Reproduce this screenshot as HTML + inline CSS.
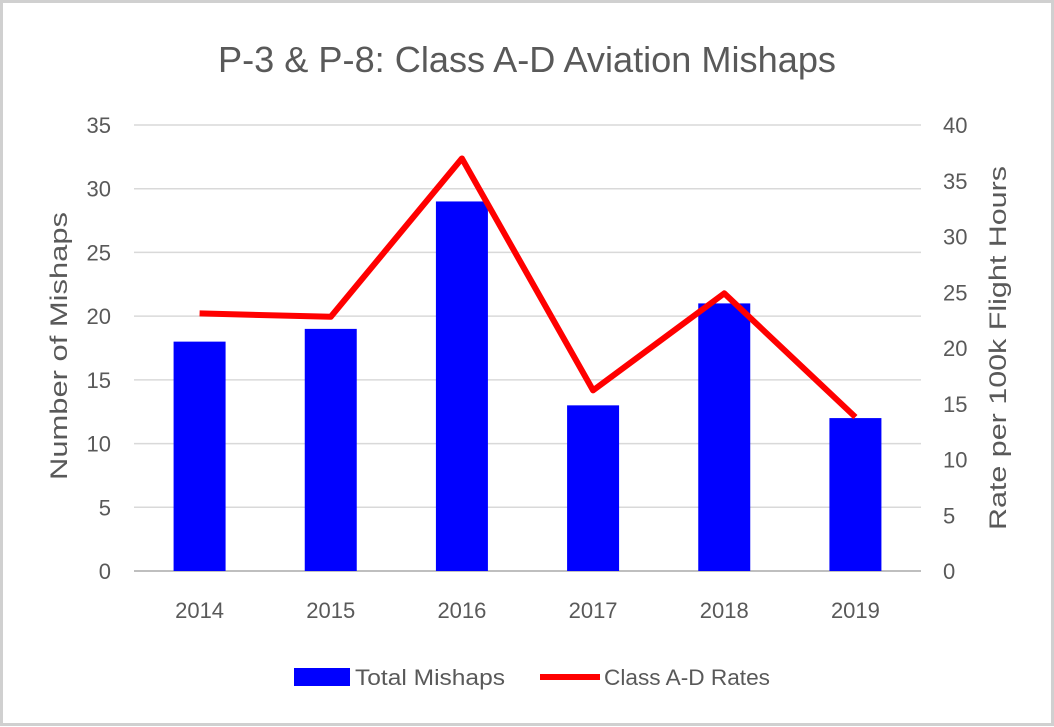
<!DOCTYPE html>
<html><head><meta charset="utf-8"><style>
body{margin:0;width:1054px;height:727px;background:#fff;overflow:hidden}
svg{display:block;font-family:"Liberation Sans",sans-serif}
</style></head><body>
<svg id="c" width="1054" height="727">
<rect x="1.5" y="1.5" width="1051" height="723" fill="#fff" stroke="#d0d0d0" stroke-width="3"/>
<text x="527" y="72" text-anchor="middle" font-size="36" fill="#595959" textLength="618" lengthAdjust="spacingAndGlyphs">P-3 &amp; P-8: Class A-D Aviation Mishaps</text>
<text transform="translate(67,346) rotate(-90)" text-anchor="middle" font-size="24" fill="#595959" textLength="268" lengthAdjust="spacingAndGlyphs">Number of Mishaps</text>
<text transform="translate(1006,348) rotate(-90)" text-anchor="middle" font-size="24" fill="#595959" textLength="364" lengthAdjust="spacingAndGlyphs">Rate per 100k Flight Hours</text>
<g id="grid"></g><g id="bars"></g><g id="line"></g><g id="labels"></g>
<g>
<rect x="294" y="668" width="56" height="18" fill="#0000ff"/>
<text x="355" y="685" font-size="22" fill="#595959" textLength="150" lengthAdjust="spacingAndGlyphs">Total Mishaps</text>
<line x1="540" y1="677" x2="600" y2="677" stroke="#ff0000" stroke-width="6"/>
<text x="604" y="685" font-size="22" fill="#595959" textLength="166" lengthAdjust="spacingAndGlyphs">Class A-D Rates</text>
</g>
</svg>
<script>
const years=["2014","2015","2016","2017","2018","2019"];
const mishaps=[18,19,29,13,21,12];
const rates=[23.1,22.8,37.0,16.2,24.9,13.8];
const leftTicks=[0,5,10,15,20,25,30,35];
const rightTicks=[0,5,10,15,20,25,30,35,40];
const NS="http://www.w3.org/2000/svg";
const x0=134,x1=921,yb=571,yt=125;
const yL=v=>yb-(v/35)*(yb-yt);
const yR=v=>yb-(v/40)*(yb-yt);
const bw=(x1-x0)/years.length;
const xc=i=>x0+bw*(i+0.5);
function mk(t,a,p){const e=document.createElementNS(NS,t);for(const k in a)e.setAttribute(k,a[k]);p.appendChild(e);return e;}
const g=document.getElementById('grid'),b=document.getElementById('bars'),l=document.getElementById('line'),lb=document.getElementById('labels');
leftTicks.forEach(v=>{
 const ln=mk('line',{x1:x0,x2:x1,y1:yL(v),y2:yL(v),stroke:v===0?'#bfbfbf':'#d9d9d9','stroke-width':v===0?2:1.5},g);
 
 
 const t=mk('text',{x:111,y:yL(v)+8,'text-anchor':'end','font-size':22,fill:'#595959'},lb);t.textContent=v;
 
 
});
rightTicks.forEach(v=>{
 const t=mk('text',{x:943,y:yR(v)+8,'font-size':22,fill:'#595959'},lb);t.textContent=v;
 
 
});
years.forEach((y,i)=>{
 const r=mk('rect',{x:xc(i)-26,y:yL(mishaps[i]),width:52,height:yb-yL(mishaps[i]),fill:'#0000ff'},b);
 
 
 const t=mk('text',{x:xc(i),y:618,'text-anchor':'middle','font-size':22,fill:'#595959'},lb);t.textContent=y;
 
 
});
const p=mk('polyline',{points:rates.map((v,i)=>xc(i)+','+yR(v)).join(' '),fill:'none',stroke:'#ff0000','stroke-width':6,'stroke-linejoin':'round'},l);


</script>
</body></html>
